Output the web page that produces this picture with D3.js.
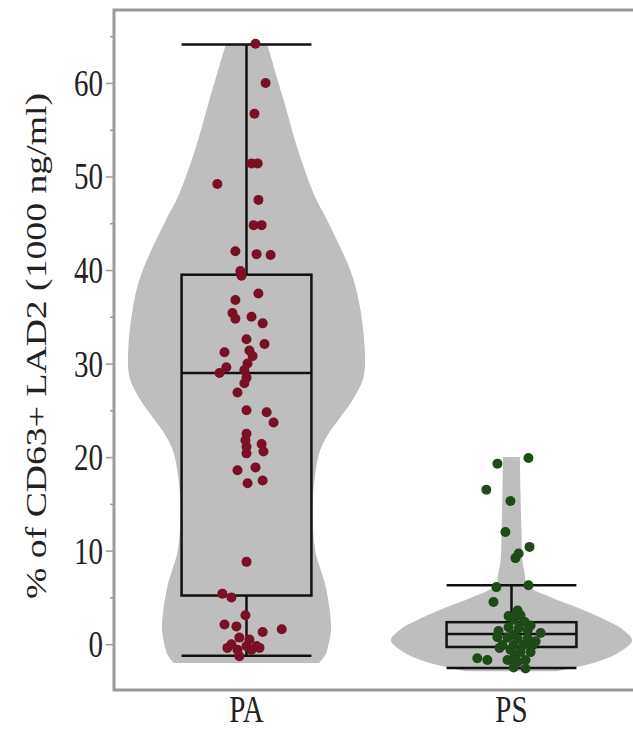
<!DOCTYPE html>
<html lang="en">
<head>
<meta charset="UTF-8">
<script src="https://cdn.jsdelivr.net/npm/d3@7"></script>
<title>CD63+ LAD2 violin</title>
<style>
  body { margin: 0; background: #fff; }
  text { font-family: "Liberation Serif", "Times New Roman", serif; }
</style>
</head>
<body>
<div id="chart"></div>
<script>
// categories
var groups = ["PA", "PS"];

// PA points: values, and horizontal jitter as fraction of the category step
var paValues = [64.2, 60.0, 56.7, 51.4, 51.4, 49.2, 47.5, 44.8, 44.8, 42.0,
    41.7, 41.6, 39.9, 39.4, 37.5, 36.8, 35.4, 34.8, 35.0, 34.3,
    32.6, 32.1, 31.4, 30.8, 31.2, 30.0, 29.6, 29.0, 29.3, 28.5,
    27.9, 26.9, 25.0, 24.8, 23.7, 22.5, 21.8, 21.1, 20.4, 21.4,
    20.6, 18.6, 18.9, 17.2, 17.5, 8.8, 5.4, 5.0, 3.1, 2.1,
    1.9, 1.3, 1.6, 0.7, 0.5, 0.0, -0.2, -0.2, -0.4, -0.6,
    -0.6, -1.3, -0.4];
var paJitter = [0.034, 0.072, 0.030, 0.019, 0.042, -0.110, 0.045, 0.027, 0.057, -0.042,
    0.038, 0.091, -0.023, -0.019, 0.045, -0.042, -0.053, -0.042, 0.019, 0.061,
    0.000, 0.068, 0.011, 0.023, -0.083, 0.004, -0.076, -0.102, -0.008, 0.000,
    -0.008, -0.034, 0.000, 0.076, 0.102, 0.000, -0.004, 0.000, 0.000, 0.057,
    0.064, -0.034, 0.034, 0.004, 0.061, 0.000, -0.091, -0.057, -0.004, -0.083,
    -0.038, 0.061, 0.133, -0.027, 0.011, -0.057, 0.000, 0.038, -0.072, -0.034,
    0.019, -0.027, 0.049];

// PS points
var psValues = [19.3, 19.9, 16.5, 15.3, 12.0, 10.4, 9.7, 9.2, 6.1, 6.3,
    4.5, 3.6, 3.1, 2.6, 2.4, 1.8, 1.7, 1.5, 1.2, 0.75,
    0.7, 0.6, 0.6, -0.1, -0.1, -0.1, -0.1, -0.6, -0.85, -0.85,
    -1.5, -1.7, -1.7, -1.9, -1.7, -2.5, -2.6, 3.0, 2.0, 1.0,
    0.3, -0.4, -1.2, 2.9, 1.4];
var psJitter = [-0.053, 0.064, -0.095, -0.004, -0.023, 0.068, 0.027, 0.015, -0.057, 0.064,
    -0.068, 0.023, 0.034, 0.011, 0.049, -0.011, 0.027, 0.061, 0.110, -0.053,
    -0.015, 0.023, 0.061, -0.034, 0.008, 0.045, 0.080, -0.004, 0.034, 0.072,
    -0.129, -0.091, -0.015, 0.023, 0.053, 0.008, 0.053, -0.011, 0.072, 0.004,
    0.091, -0.045, 0.015, 0.004, -0.049];

// box stats: lower whisker, Q1, median, Q3, upper whisker
var paBox = [-1.25, 5.2, 29.0, 39.5, 64.1];
var psBox = [-2.55, -0.3, 1.1, 2.35, 6.3];

// violin outlines: value and relative density (1 = widest)
var paViolinV = [64.2, 58.1, 52.7, 47.8, 45.3, 40.0, 36.8, 31.7, 28.5, 26.1,
    24.3, 22.5, 20.7, 17.2, 13.6, 10.0, 6.5, 3.6, 1.5, -0.6, -1.0, -1.6, -2.0];
var paViolinD = [0.17, 0.31, 0.43, 0.57, 0.67, 0.86, 0.93, 0.98, 0.97, 0.88,
    0.78, 0.68, 0.61, 0.56, 0.55, 0.57, 0.65, 0.69, 0.70, 0.67, 0.66, 0.63, 0.60];
var psViolinV = [20.0, 16.0, 12.0, 9.0, 7.5, 6.3, 5.0, 4.0, 3.0, 1.5,
    0.4, -0.8, -1.8, -2.5, -2.9];
var psViolinD = [0.07, 0.075, 0.083, 0.09, 0.11, 0.13, 0.33, 0.53, 0.71, 0.93,
    1.0, 0.9, 0.73, 0.52, 0.38];

var yTicks = [0, 10, 20, 30, 40, 50, 60];
var yMinor = [5, 15, 25, 35, 45, 55, 65];
var yTitle = "% of CD63+ LAD2 (1000 ng/ml)";

var W = 633, H = 730;
var margin = {top: 10, left: 114, right: -11, bottom: 40};
var stretch = 1.3;   // the text in the picture is drawn tall and narrow

var svg = d3.select("#chart").append("svg")
    .attr("width", W)
    .attr("height", H);

var x = d3.scaleBand()
    .domain(groups)
    .range([margin.left, W - margin.right])
    .padding(0);

var y = d3.scaleLinear()
    .domain([-4.9, 67.8])
    .range([H - margin.bottom, margin.top]);

var width = d3.scaleLinear().domain([0, 1]).range([0, 0.455 * x.step()]);

function center(g) { return x(g) + x.bandwidth() / 2; }

// violins
var series = [
    {g: "PA", v: paViolinV, d: paViolinD, box: paBox, vals: paValues, jit: paJitter, col: "#7a1026"},
    {g: "PS", v: psViolinV, d: psViolinD, box: psBox, vals: psValues, jit: psJitter, col: "#1e4b17"}
];

series.forEach(function (s) {
    var cx = center(s.g);
    var outline = s.v.map(function (v, i) { return {v: v, d: s.d[i]}; });
    var area = d3.area()
        .curve(d3.curveCatmullRom.alpha(0.5))
        .y(function (d) { return y(d.v); })
        .x0(function (d) { return cx - width(d.d); })
        .x1(function (d) { return cx + width(d.d); });
    svg.append("path")
        .datum(outline)
        .attr("d", area)
        .attr("fill", "#bebebe");
});

// box plots
series.forEach(function (s) {
    var cx = center(s.g);
    var hw = 0.245 * x.step();
    var b = s.box;
    var g = svg.append("g")
        .attr("stroke", "#111")
        .attr("stroke-width", 2.5)
        .attr("fill", "none");
    g.append("line").attr("x1", cx).attr("x2", cx).attr("y1", y(b[4])).attr("y2", y(b[3]));
    g.append("line").attr("x1", cx).attr("x2", cx).attr("y1", y(b[1])).attr("y2", y(b[0]));
    g.append("line").attr("x1", cx - hw).attr("x2", cx + hw).attr("y1", y(b[4])).attr("y2", y(b[4]));
    g.append("line").attr("x1", cx - hw).attr("x2", cx + hw).attr("y1", y(b[0])).attr("y2", y(b[0]));
    g.append("rect")
        .attr("x", cx - hw)
        .attr("y", y(b[3]))
        .attr("width", 2 * hw)
        .attr("height", y(b[1]) - y(b[3]));
    g.append("line").attr("x1", cx - hw).attr("x2", cx + hw).attr("y1", y(b[2])).attr("y2", y(b[2]));
});

// jittered points
series.forEach(function (s) {
    var cx = center(s.g);
    svg.append("g").selectAll("circle")
        .data(s.vals)
        .enter()
        .append("circle")
        .attr("cx", function (d, i) { return cx + s.jit[i] * x.step(); })
        .attr("cy", function (d) { return y(d); })
        .attr("r", 5)
        .attr("fill", s.col);
});

// frame
svg.append("rect")
    .attr("x", margin.left)
    .attr("y", margin.top)
    .attr("width", W - margin.right - margin.left)
    .attr("height", H - margin.bottom - margin.top)
    .attr("fill", "none")
    .attr("stroke", "#999")
    .attr("stroke-width", 3);

// y axis
var yAxis = svg.append("g")
    .attr("transform", "translate(" + margin.left + ",0)")
    .call(d3.axisLeft(y).tickValues(yTicks).tickSize(8).tickPadding(3));
yAxis.select(".domain").remove();
yAxis.selectAll("line").attr("stroke", "#999").attr("stroke-width", 1.5);
yAxis.selectAll("text")
    .attr("font-size", 29)
    .attr("font-family", "Liberation Serif, serif")
    .attr("fill", "#222")
    .attr("dy", "0.33em")
    .attr("transform", "scale(1," + stretch + ")");

var yMinorAxis = svg.append("g")
    .attr("transform", "translate(" + margin.left + ",0)")
    .call(d3.axisLeft(y).tickValues(yMinor).tickSize(4).tickFormat(""));
yMinorAxis.select(".domain").remove();
yMinorAxis.selectAll("line").attr("stroke", "#999").attr("stroke-width", 1.5);

// x labels
svg.append("g").selectAll("text")
    .data(groups)
    .enter()
    .append("text")
    .attr("transform", function (d) {
        return "translate(" + center(d) + "," + (H - 8) + ") scale(1," + stretch + ")";
    })
    .attr("text-anchor", "middle")
    .attr("font-size", 29)
    .attr("fill", "#222")
    .text(function (d) { return d; });

// y title
svg.append("text")
    .attr("transform", "translate(46," + ((y(67.8) + y(-4.9)) / 2 - 4) + ") scale(1," + stretch + ") rotate(-90)")
    .attr("text-anchor", "middle")
    .attr("font-size", 29)
    .attr("fill", "#222")
    .text(yTitle);
</script>
</body>
</html>
